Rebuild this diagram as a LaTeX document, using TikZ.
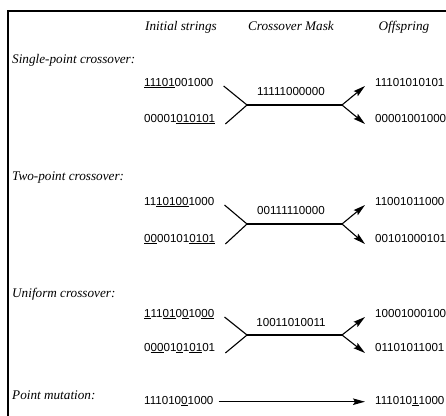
\documentclass[tikz,border=0pt]{standalone}
\usepackage{fontspec}
\setmainfont{Liberation Serif}
\setsansfont{Liberation Sans}
\usetikzlibrary{arrows.meta}
\usetikzlibrary{positioning}

\tikzset{
  rowlabel/.style={anchor=base west, inner sep=0pt, font=\fontsize{13.2}{15}\selectfont\itshape},
  colhead/.style={anchor=base, inner sep=0pt, font=\fontsize{13.2}{15}\selectfont\itshape},
  bits/.style={anchor=base west, inner sep=0pt, font=\fontsize{11.6}{13}\selectfont\sffamily},
  maskbits/.style={bits, anchor=base},
  wire/.style={line width=1.1pt},
  arrowwire/.style={line width=1.1pt, -{Stealth[length=12pt,width=6.5pt,inset=2pt]}}
}
\newcommand{\ul}[1]{\underline{#1}}

\begin{document}
\begin{tikzpicture}[x=1pt,y=-1pt]
\useasboundingbox (0,0) rectangle (446,415);
\draw[line width=2pt] (8,420) -- (8,11) -- (450,11);

\node[colhead] (hinit) at (181,30) {Initial strings};
\node[colhead] (hmask) at (291,30) {Crossover Mask};
\node[colhead] (hoff) at (404,30) {Offspring};

\node[rowlabel] (lsingle) at (12,63) {Single-point crossover:};
\node[bits] (sp1) at (144,86) {\ul{11101}001000};
\node[bits] (sp2) at (144,122) {00001\ul{010101}};
\node[maskbits] (smask) at (291,95) {11111000000};
\node[bits] (so1) at (375,86) {11101010101};
\node[bits] (so2) at (375,122) {00001001000};
\coordinate (sjl) at (247,105);
\coordinate (sjr) at (342,105);
\draw[wire] ([xshift=10pt]sp1.base east) -- (sjl) -- ([xshift=10pt,yshift=-2pt]sp2.base east);
\draw[wire] (sjl) -- (sjr);
\draw[arrowwire] (sjr) -- ([xshift=-10pt]so1.base west);
\draw[arrowwire] (sjr) -- ([xshift=-10pt,yshift=-2pt]so2.base west);

\node[rowlabel] (ltwo) at (12,180) {Two-point crossover:};
\node[bits] (tp1) at (144,205) {11\ul{10100}1000};
\node[bits] (tp2) at (144,242) {\ul{00}00101\ul{0101}};
\node[maskbits] (tmask) at (291,214) {00111110000};
\node[bits] (to1) at (375,205) {11001011000};
\node[bits] (to2) at (375,242) {00101000101};
\coordinate (tjl) at (247,224);
\coordinate (tjr) at (342,224);
\draw[wire] ([xshift=10pt]tp1.base east) -- (tjl) -- ([xshift=10pt,yshift=-2pt]tp2.base east);
\draw[wire] (tjl) -- (tjr);
\draw[arrowwire] (tjr) -- ([xshift=-10pt]to1.base west);
\draw[arrowwire] (tjr) -- ([xshift=-10pt,yshift=-2pt]to2.base west);

\node[rowlabel] (luni) at (12,297) {Uniform crossover:};
\node[bits] (up1) at (144,317) {\ul{1}11\ul{01}0\ul{0}10\ul{00}};
\node[bits] (up2) at (144,351) {0\ul{00}01\ul{0}1\ul{01}01};
\node[maskbits] (umask) at (291,326) {10011010011};
\node[bits] (uo1) at (375,317) {10001000100};
\node[bits] (uo2) at (375,351) {01101011001};
\coordinate (ujl) at (247,335);
\coordinate (ujr) at (342,335);
\draw[wire] ([xshift=10pt]up1.base east) -- (ujl) -- ([xshift=10pt,yshift=-2pt]up2.base east);
\draw[wire] (ujl) -- (ujr);
\draw[arrowwire] (ujr) -- ([xshift=-10pt]uo1.base west);
\draw[arrowwire] (ujr) -- ([xshift=-10pt,yshift=-2pt]uo2.base west);

\node[rowlabel] (lmut) at (12,399) {Point mutation:};
\node[bits] (mp) at (144,404) {111010\ul{0}1000};
\node[bits] (mo) at (375,404) {111010\ul{1}1000};
\draw[arrowwire] ([xshift=5pt]mp.mid east) -- ([xshift=-10pt]mo.mid west);
\end{tikzpicture}
\end{document}
